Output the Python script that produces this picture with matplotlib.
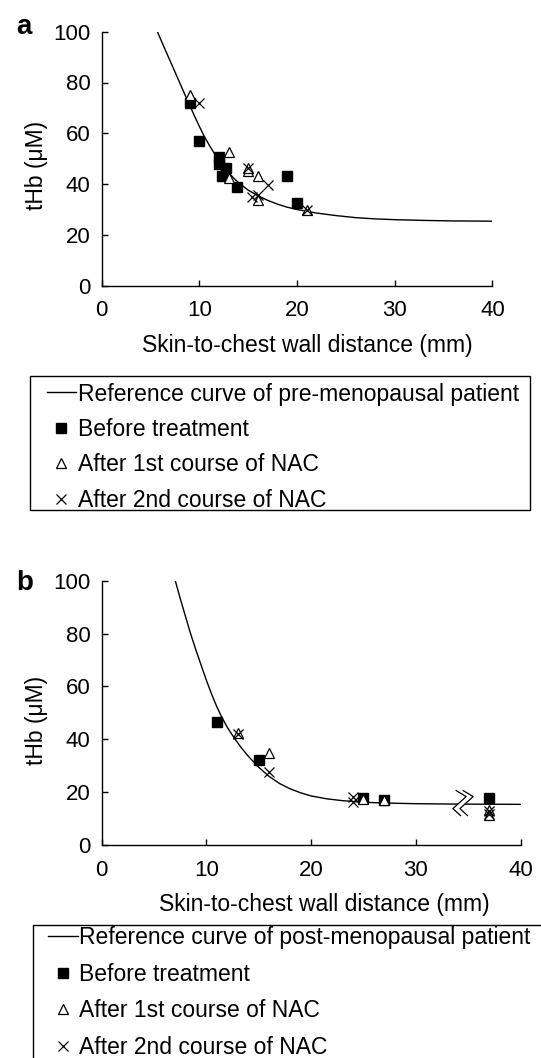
import numpy as np
import matplotlib.pyplot as plt
from matplotlib import transforms as mtransforms
from matplotlib.patches import Rectangle, Polygon
from matplotlib.lines import Line2D

plt.rcParams['font.family'] = ['Liberation Sans', 'DejaVu Sans']

# panel a: pre-menopausal
curve_a_x = [5.7, 6.5, 7.2, 8, 8.5, 9, 9.5, 10, 10.5, 11, 11.5, 12, 12.5, 13, 13.5,
             14, 15, 16, 17, 18, 19, 20, 22, 24, 26, 28, 30, 33, 36, 40]
curve_a_y = [100, 92.9, 86.8, 79.8, 75.4, 71.1, 66.8, 62.7, 58.8, 55.4, 52.3, 49.4, 46.8, 44.5, 42.4,
             40.6, 37.6, 35.4, 33.6, 32.1, 30.9, 30.0, 28.6, 27.6, 26.8, 26.3, 26.0, 25.7, 25.5, 25.4]
before_a_x = [9, 10, 12, 12, 12.3, 12.7, 13.9, 19, 20]
before_a_y = [72, 57, 50.5, 48, 43.2, 46.5, 39, 43.3, 32.4]
first_a_x = [9, 13, 13, 15, 15, 16, 16, 21]
first_a_y = [75, 52.8, 42.3, 45.2, 46.5, 43.2, 33.7, 29.8]
second_a_x = [10, 15, 15.4, 16, 17, 21]
second_a_y = [71.8, 46.2, 35.0, 35.8, 39.6, 30.0]

# panel b: post-menopausal
curve_b_x = [7.05, 7.5, 8, 8.5, 9, 9.5, 10, 10.5, 11, 11.5, 12, 12.6, 13.3, 14,
             15, 16, 17, 18, 19, 20, 21.5, 23, 25, 27, 30, 34, 40]
curve_b_y = [100, 93.6, 86.8, 80.1, 74.0, 68.2, 62.5, 57.2, 52.4, 48.2, 44.6, 40.9, 37.0, 33.6,
             29.4, 25.9, 23.2, 21.2, 19.7, 18.5, 17.4, 16.7, 16.1, 15.8, 15.55, 15.4, 15.3]
before_b_x = [11, 15, 25, 27, 37]
before_b_y = [46.4, 32.3, 17.6, 17.0, 17.6]
first_b_x = [13, 16, 25, 27, 37, 37]
first_b_y = [42.4, 34.8, 17.3, 16.9, 13.3, 11.3]
second_b_x = [13, 16, 24, 24, 37, 37]
second_b_y = [41.8, 27.5, 18.0, 16.3, 12.9, 11.6]
break_b = (34.5, 15.4)

xticks = [0, 10, 20, 30, 40]
yticks = [0, 20, 40, 60, 80, 100]
labels = ['Before treatment', 'After 1st course of NAC', 'After 2nd course of NAC']

FS = 16.5
W, H = 541, 1058
fig = plt.figure(figsize=(W / 100, H / 100), dpi=100)


def px_rect(l, t, r, b):
    return [l / W, 1 - b / H, (r - l) / W, (b - t) / H]


def draw_panel(ax, cx, cy, bx, by, fx, fy, sx, sy, curve_label):
    ax.plot(cx, cy, color='black', lw=1.0, label=curve_label, zorder=2)
    ax.plot(bx, by, ls='none', marker='s', ms=7, mfc='black', mec='black',
            label=labels[0], zorder=4)
    ax.plot(fx, fy, ls='none', marker='^', ms=7.5, mfc='white', mec='black',
            mew=0.9, label=labels[1], zorder=5)
    ax.plot(sx, sy, ls='none', marker='x', ms=7.5, mec='black', mew=0.9,
            label=labels[2], zorder=6)
    ax.set_xlim(0, 40)
    ax.set_ylim(0, 100)
    ax.set_xticks(xticks)
    ax.set_yticks(yticks)
    for s in ['top', 'right']:
        ax.spines[s].set_visible(False)
    for s in ['left', 'bottom']:
        ax.spines[s].set_linewidth(1.0)
    ax.tick_params(direction='in', length=4, width=1, labelsize=16, pad=8)
    ax.set_xlabel('Skin-to-chest wall distance (mm)', fontsize=FS)
    ax.set_ylabel('tHb (\u03bcM)', fontsize=FS)


ax_a = fig.add_axes(px_rect(101.7, 31.7, 492.4, 285.7))
draw_panel(ax_a, curve_a_x, curve_a_y, before_a_x, before_a_y, first_a_x, first_a_y,
           second_a_x, second_a_y, 'Reference curve of pre-menopausal patient')
ax_a.xaxis.set_label_coords(0.525, -0.19)
ax_a.yaxis.set_label_coords(-0.138, 0.475)
ax_a.tick_params(axis='x', pad=10)

ax_b = fig.add_axes(px_rect(101.5, 581, 520.5, 844.7))
draw_panel(ax_b, curve_b_x, curve_b_y, before_b_x, before_b_y, first_b_x, first_b_y,
           second_b_x, second_b_y, 'Reference curve of post-menopausal patient')
ax_b.xaxis.set_label_coords(0.531, -0.184)
ax_b.yaxis.set_label_coords(-0.127, 0.473)
ax_b.tick_params(axis='x', pad=11)

# axis break mark on the plateau of panel b
trans = fig.dpi_scale_trans + mtransforms.ScaledTranslation(break_b[0], break_b[1], ax_b.transData)
zig = np.array([[-6.7, 13.5], [3.3, 7.5], [-10, -4.5], [-2.4, -11.5]]) / 100.0
zig2 = zig + np.array([7, 0]) / 100.0
ax_b.add_patch(Polygon(np.vstack([zig, zig2[::-1]]), closed=True, transform=trans,
                       facecolor='white', edgecolor='none', zorder=3))
for z in (zig, zig2):
    ax_b.add_line(Line2D(z[:, 0], z[:, 1], transform=trans, color='black', lw=0.9, zorder=3))

# legends
ax_a.legend(loc='upper left', bbox_to_anchor=(46.6 / W, 1 - 382.5 / H),
            bbox_transform=fig.transFigure, frameon=False, fontsize=FS,
            handlelength=1.3, handletextpad=0.05, labelspacing=0.54,
            borderpad=0, borderaxespad=0)
fig.add_artist(Rectangle((30 / W, 1 - 509.7 / H), 500.4 / W, 133.7 / H,
                         transform=fig.transFigure, fill=False, lw=1, ec='black'))

ax_b.legend(loc='upper left', bbox_to_anchor=(48.3 / W, 1 - 925.8 / H),
            bbox_transform=fig.transFigure, frameon=False, fontsize=FS,
            handlelength=1.3, handletextpad=0.05, labelspacing=0.6,
            borderpad=0, borderaxespad=0)
fig.add_artist(Rectangle((32.8 / W, 1 - 1080 / H), (560 - 32.8) / W, (1080 - 925) / H,
                         transform=fig.transFigure, fill=False, lw=1, ec='black'))

fig.text(16 / W, 1 - 34.5 / H, 'a', fontsize=20, fontweight='bold', va='baseline')
fig.text(16 / W, 1 - 590 / H, 'b', fontsize=20, fontweight='bold', va='baseline')

fig.savefig('out.png', dpi=100)
